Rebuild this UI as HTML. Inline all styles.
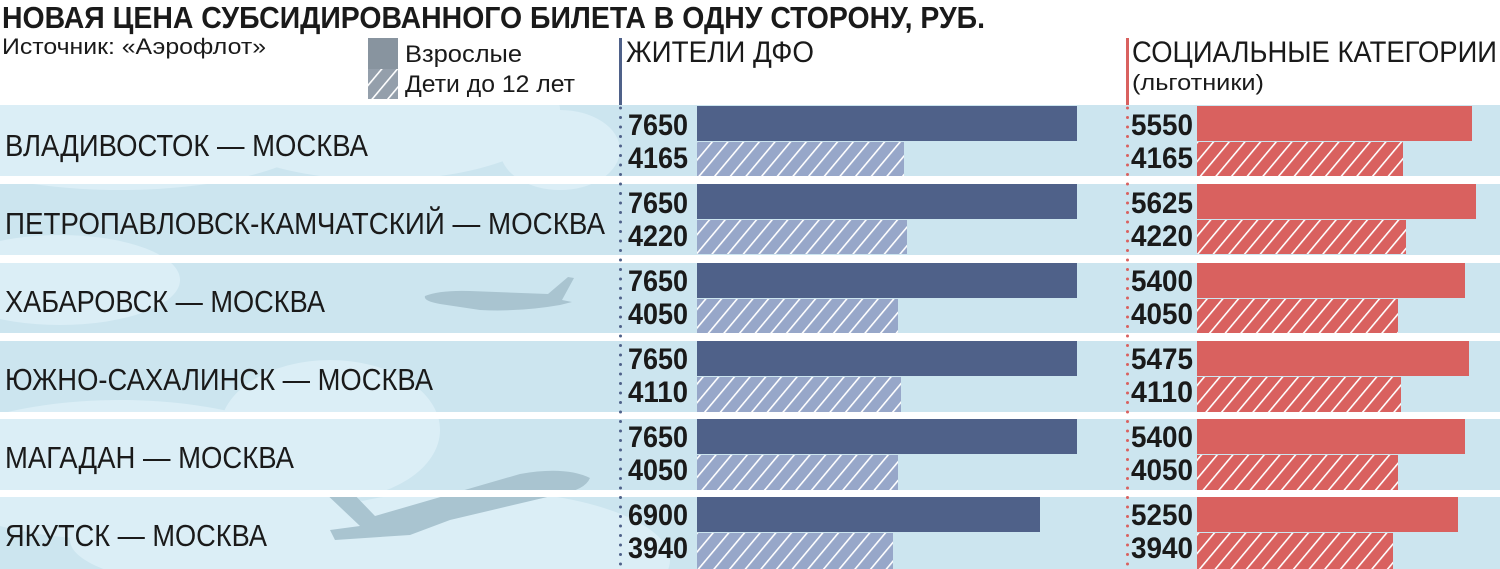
<!DOCTYPE html>
<html><head><meta charset="utf-8"><style>
html,body{margin:0;padding:0;background:#fff;width:1500px;height:569px;overflow:hidden}
svg{display:block;position:absolute;left:0;top:0}
text{font-family:"Liberation Sans",sans-serif;fill:#1a1a1a}
</style></head><body>
<svg width="1500" height="569" viewBox="0 0 1500 569" xmlns="http://www.w3.org/2000/svg">
<defs>
<pattern id="hb" width="12" height="12" patternUnits="userSpaceOnUse" patternTransform="rotate(40)">
<rect width="12" height="12" fill="#97a7c9"/><rect x="0" y="0" width="1.6" height="12" fill="#fff"/></pattern>
<pattern id="hr" width="12" height="12" patternUnits="userSpaceOnUse" patternTransform="rotate(40)">
<rect width="12" height="12" fill="#d9615f"/><rect x="0" y="0" width="1.6" height="12" fill="#fff"/></pattern>
<pattern id="hg" width="12" height="12" patternUnits="userSpaceOnUse" patternTransform="rotate(40)">
<rect width="12" height="12" fill="#949fab"/><rect x="0" y="0" width="1.6" height="12" fill="#fff"/></pattern>
<clipPath id="rows">
<rect x="0" y="105" width="1500" height="71"/><rect x="0" y="184" width="1500" height="71"/>
<rect x="0" y="263" width="1500" height="70"/><rect x="0" y="341" width="1500" height="71"/>
<rect x="0" y="419" width="1500" height="71"/><rect x="0" y="497" width="1500" height="72"/>
</clipPath>
</defs>
<text x="2" y="28" font-size="31" font-weight="bold" textLength="983" lengthAdjust="spacingAndGlyphs">НОВАЯ ЦЕНА СУБСИДИРОВАННОГО БИЛЕТА В ОДНУ СТОРОНУ, РУБ.</text>
<text x="2" y="54" font-size="22" textLength="264" lengthAdjust="spacingAndGlyphs">Источник: «Аэрофлот»</text>
<rect x="368" y="38" width="30" height="31" fill="#88949f"/>
<rect x="368" y="69" width="30" height="30" fill="url(#hg)"/>
<text x="405" y="62" font-size="24" textLength="117" lengthAdjust="spacingAndGlyphs">Взрослые</text>
<text x="405" y="92" font-size="24" textLength="170" lengthAdjust="spacingAndGlyphs">Дети до 12 лет</text>
<rect x="619" y="38" width="3" height="67" fill="#4f6189"/>
<text x="626" y="62" font-size="30" textLength="188" lengthAdjust="spacingAndGlyphs">ЖИТЕЛИ ДФО</text>
<rect x="1126" y="38" width="3" height="67" fill="#d9615f"/>
<text x="1132" y="62" font-size="30" textLength="365" lengthAdjust="spacingAndGlyphs">СОЦИАЛЬНЫЕ КАТЕГОРИИ</text>
<text x="1132" y="90" font-size="22" textLength="132" lengthAdjust="spacingAndGlyphs">(льготники)</text>
<g clip-path="url(#rows)">
<rect x="0" y="100" width="1500" height="469" fill="#cce5ef"/>
<g fill="#dbeef6">
<ellipse cx="120" cy="130" rx="200" ry="60"/><ellipse cx="380" cy="110" rx="180" ry="70"/>
<ellipse cx="560" cy="150" rx="60" ry="40"/><ellipse cx="60" cy="280" rx="120" ry="45"/>
<ellipse cx="120" cy="470" rx="200" ry="70"/><ellipse cx="330" cy="430" rx="110" ry="70"/>
<ellipse cx="470" cy="560" rx="200" ry="70"/><ellipse cx="250" cy="540" rx="180" ry="50"/>
</g>
<g fill="#a9c4d0">
<path d="M425 296 Q440 290 470 291 L548 294 L568 277 L574 278 L562 300 L572 302 L560 305 Q520 312 480 310 L440 304 Q423 301 425 296Z"/>
<path d="M322 490 L350 490 L375 516 L520 474 Q565 466 590 478 Q585 490 560 494 L450 520 L410 535 L335 540 L330 530 L360 526Z"/>
</g>
</g>
<g font-size="31">
<text x="5" y="156" textLength="363" lengthAdjust="spacingAndGlyphs">ВЛАДИВОСТОК — МОСКВА</text>
<text x="5" y="234" textLength="600" lengthAdjust="spacingAndGlyphs">ПЕТРОПАВЛОВСК-КАМЧАТСКИЙ — МОСКВА</text>
<text x="5" y="312" textLength="320" lengthAdjust="spacingAndGlyphs">ХАБАРОВСК — МОСКВА</text>
<text x="5" y="390" textLength="428" lengthAdjust="spacingAndGlyphs">ЮЖНО-САХАЛИНСК — МОСКВА</text>
<text x="5" y="468" textLength="289" lengthAdjust="spacingAndGlyphs">МАГАДАН — МОСКВА</text>
<text x="5" y="546" textLength="262" lengthAdjust="spacingAndGlyphs">ЯКУТСК — МОСКВА</text>
</g>
<line x1="620.5" y1="108" x2="620.5" y2="569" stroke="#4f6189" stroke-width="3" stroke-dasharray="0 9.5" stroke-linecap="round"/>
<line x1="1127.5" y1="108" x2="1127.5" y2="569" stroke="#d9615f" stroke-width="3" stroke-dasharray="0 9.5" stroke-linecap="round"/>
<g font-weight="bold" font-size="30">
<rect x="697" y="106" width="380" height="35" fill="#4f6189"/><rect x="697" y="142" width="207" height="34" fill="url(#hb)"/>
<rect x="1197" y="106" width="275" height="35" fill="#d9615f"/><rect x="1197" y="142" width="206" height="34" fill="url(#hr)"/>
<text x="628" y="135" textLength="60" lengthAdjust="spacingAndGlyphs">7650</text><text x="628" y="168" textLength="60" lengthAdjust="spacingAndGlyphs">4165</text>
<text x="1131" y="135" textLength="62" lengthAdjust="spacingAndGlyphs">5550</text><text x="1131" y="168" textLength="62" lengthAdjust="spacingAndGlyphs">4165</text>
<rect x="697" y="184" width="380" height="35" fill="#4f6189"/><rect x="697" y="220" width="210" height="34" fill="url(#hb)"/>
<rect x="1197" y="184" width="279" height="35" fill="#d9615f"/><rect x="1197" y="220" width="209" height="34" fill="url(#hr)"/>
<text x="628" y="213" textLength="60" lengthAdjust="spacingAndGlyphs">7650</text><text x="628" y="246" textLength="60" lengthAdjust="spacingAndGlyphs">4220</text>
<text x="1131" y="213" textLength="62" lengthAdjust="spacingAndGlyphs">5625</text><text x="1131" y="246" textLength="62" lengthAdjust="spacingAndGlyphs">4220</text>
<rect x="697" y="263" width="380" height="35" fill="#4f6189"/><rect x="697" y="299" width="201" height="34" fill="url(#hb)"/>
<rect x="1197" y="263" width="268" height="35" fill="#d9615f"/><rect x="1197" y="299" width="201" height="34" fill="url(#hr)"/>
<text x="628" y="291" textLength="60" lengthAdjust="spacingAndGlyphs">7650</text><text x="628" y="324" textLength="60" lengthAdjust="spacingAndGlyphs">4050</text>
<text x="1131" y="291" textLength="62" lengthAdjust="spacingAndGlyphs">5400</text><text x="1131" y="324" textLength="62" lengthAdjust="spacingAndGlyphs">4050</text>
<rect x="697" y="341" width="380" height="35" fill="#4f6189"/><rect x="697" y="377" width="204" height="35" fill="url(#hb)"/>
<rect x="1197" y="341" width="272" height="35" fill="#d9615f"/><rect x="1197" y="377" width="204" height="35" fill="url(#hr)"/>
<text x="628" y="369" textLength="60" lengthAdjust="spacingAndGlyphs">7650</text><text x="628" y="402" textLength="60" lengthAdjust="spacingAndGlyphs">4110</text>
<text x="1131" y="369" textLength="62" lengthAdjust="spacingAndGlyphs">5475</text><text x="1131" y="402" textLength="62" lengthAdjust="spacingAndGlyphs">4110</text>
<rect x="697" y="419" width="380" height="35" fill="#4f6189"/><rect x="697" y="455" width="201" height="35" fill="url(#hb)"/>
<rect x="1197" y="419" width="268" height="35" fill="#d9615f"/><rect x="1197" y="455" width="201" height="35" fill="url(#hr)"/>
<text x="628" y="447" textLength="60" lengthAdjust="spacingAndGlyphs">7650</text><text x="628" y="480" textLength="60" lengthAdjust="spacingAndGlyphs">4050</text>
<text x="1131" y="447" textLength="62" lengthAdjust="spacingAndGlyphs">5400</text><text x="1131" y="480" textLength="62" lengthAdjust="spacingAndGlyphs">4050</text>
<rect x="697" y="497" width="343" height="35" fill="#4f6189"/><rect x="697" y="533" width="196" height="36" fill="url(#hb)"/>
<rect x="1197" y="497" width="261" height="35" fill="#d9615f"/><rect x="1197" y="533" width="196" height="36" fill="url(#hr)"/>
<text x="628" y="525" textLength="60" lengthAdjust="spacingAndGlyphs">6900</text><text x="628" y="558" textLength="60" lengthAdjust="spacingAndGlyphs">3940</text>
<text x="1131" y="525" textLength="62" lengthAdjust="spacingAndGlyphs">5250</text><text x="1131" y="558" textLength="62" lengthAdjust="spacingAndGlyphs">3940</text>
</g>
</svg>
</body></html>
